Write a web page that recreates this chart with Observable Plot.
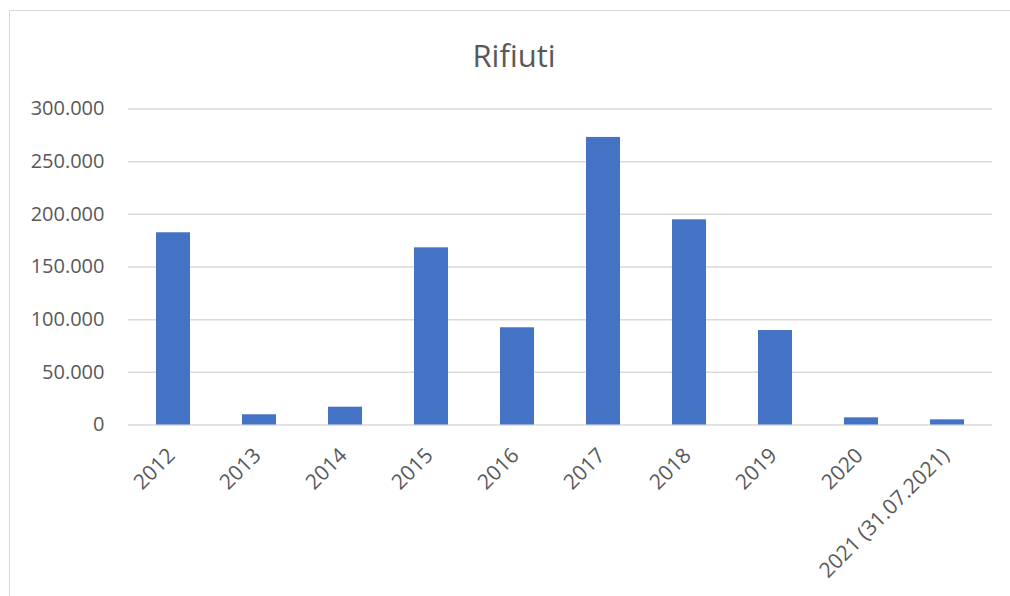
<!DOCTYPE html>
<html><head><meta charset="utf-8">
<script src="https://cdn.jsdelivr.net/npm/d3@7"></script>
<script src="https://cdn.jsdelivr.net/npm/@observablehq/plot@0.6"></script>
<style>
body{margin:0;background:#fff;font-family:"Open Sans",sans-serif;}
#frame{position:absolute;left:9px;top:10px;width:1010px;height:600px;border:1px solid #d9d9d9;box-sizing:border-box;pointer-events:none;}
#title{position:relative;height:90px;box-sizing:border-box;padding-top:40px;line-height:30px;width:1028px;text-align:center;font-size:31px;color:#595959;}
#chart{position:relative;}
</style></head><body>
<div id="frame"></div>
<div id="title">Rifiuti</div>
<div id="chart"></div>
<script>
const years = ["2012","2013","2014","2015","2016","2017","2018","2019","2020","2021 (31.07.2021)"];
const values = [182500, 9700, 16900, 168200, 92300, 273000, 194800, 89700, 6800, 4900];
const yTicks = [0, 50000, 100000, 150000, 200000, 250000, 300000];

const data = years.map((year, i) => ({year, value: values[i]}));
const locale = d3.formatLocale({decimal: ",", thousands: ".", grouping: [3], currency: ["€", ""]});
const fmt = locale.format(",");

const chart = Plot.plot({
  width: 1010,
  height: 506,
  marginLeft: 128,
  marginRight: 18,
  marginTop: 18.5,
  marginBottom: 171.5,
  style: {fontFamily: "Open Sans", background: "transparent"},
  x: {domain: years, paddingInner: 0.6, paddingOuter: 0.3, label: null},
  y: {domain: [0, 300000], label: null},
  marks: [
    Plot.gridY(yTicks, {stroke: "#d9d9d9", strokeOpacity: 1, strokeWidth: 1.5}),
    Plot.barY(data, {x: "year", y: "value", fill: "#4472C4"}),
    Plot.axisY(yTicks, {tickSize: 0, tickPadding: 24, tickFormat: fmt, fontSize: 20, color: "#595959"}),
    Plot.axisX({tickSize: 0, tickRotate: -45, tickPadding: 27, dx: -2, fontSize: 21, color: "#595959"})
  ]
});
document.getElementById("chart").appendChild(chart);
</script>
</body></html>
